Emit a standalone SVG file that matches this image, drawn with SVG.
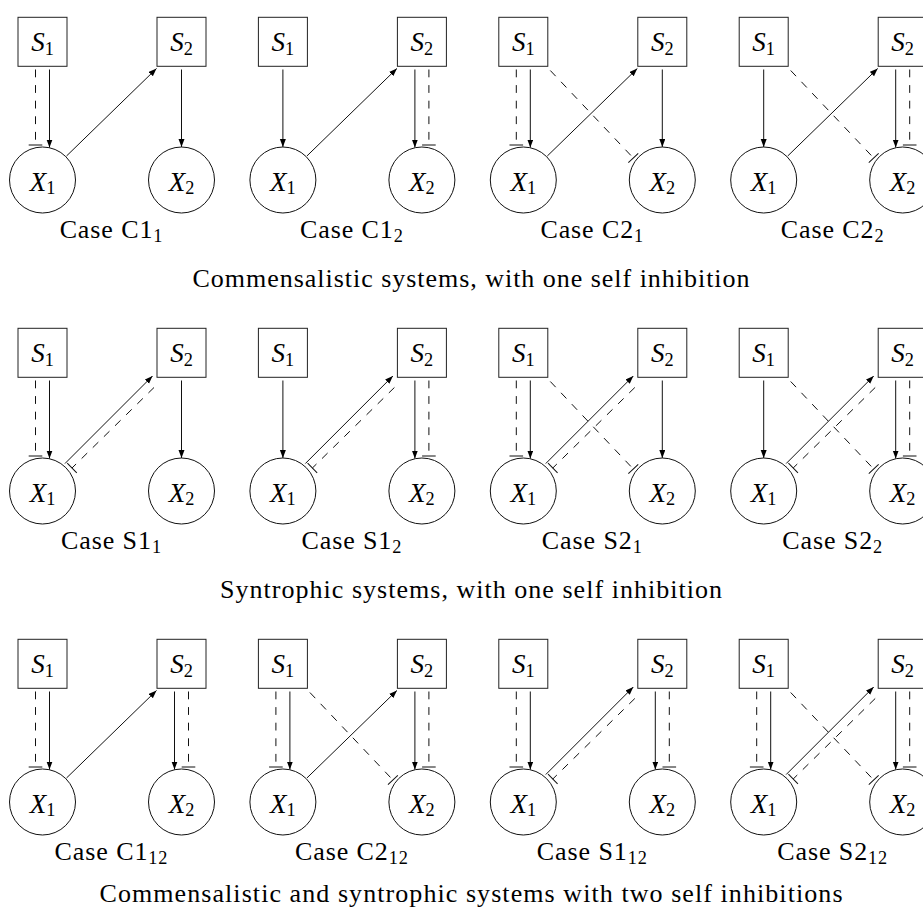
<svg xmlns="http://www.w3.org/2000/svg" width="923" height="909" viewBox="0 0 923 909" font-family="'Liberation Serif', 'Times New Roman', serif">
  <style>
    .box { fill: #fff; stroke: #222; stroke-width: 1; }
    .cell { fill: #fff; stroke: #111; stroke-width: 1; }
    .a { stroke: #111; stroke-width: 1; fill: none; marker-end: url(#arr); }
    .i { stroke: #111; stroke-width: 1; fill: none; stroke-dasharray: 7.8 7.8; marker-end: url(#bar); }
    text { fill: #000; }
    .m { font-size: 27px; font-style: italic; }
    .sub { font-size: 18.3px; font-style: normal; }
    .lab { font-size: 26px; letter-spacing: 0.9px; }
    .cap { font-size: 26px; }
  </style>
  <defs>
    <marker id="arr" markerUnits="userSpaceOnUse" markerWidth="10" markerHeight="8" refX="8" refY="3" orient="auto">
      <path d="M0,0 L8,3 L0,6 z" fill="#000"/>
    </marker>
    <marker id="bar" markerUnits="userSpaceOnUse" markerWidth="4" markerHeight="16" refX="1" refY="8" orient="auto">
      <path d="M1,1.2 V14.8" stroke="#111" stroke-width="1" fill="none"/>
    </marker>
  </defs>
  <rect width="923" height="909" fill="#fff"/>

  <!-- Row 1: commensalistic systems, one self inhibition -->
  <g id="caseC1_1" transform="translate(0,0)">
    <g class="connectors">
      <line class="a" x1="49.5" y1="69.5" x2="49.5" y2="147.5"/>
      <line class="i" x1="35.5" y1="69.5" x2="35.5" y2="145"/>
      <line class="a" x1="181.5" y1="69.5" x2="181.5" y2="147"/>
      <line class="a" x1="66.5" y1="156" x2="156.5" y2="68.5"/>
    </g>
    <g id="C1_1-S1"><rect class="box" x="18" y="17.3" width="49" height="49"/><text class="m" x="42.5" y="51" text-anchor="middle">S<tspan class="sub" dy="3.6">1</tspan></text></g>
    <g id="C1_1-S2"><rect class="box" x="157" y="17.3" width="49" height="49"/><text class="m" x="181.5" y="51" text-anchor="middle">S<tspan class="sub" dy="3.6">2</tspan></text></g>
    <g id="C1_1-X1"><circle class="cell" cx="42.5" cy="180" r="33"/><text class="m" x="42.5" y="190.5" text-anchor="middle">X<tspan class="sub" dy="3.6">1</tspan></text></g>
    <g id="C1_1-X2"><circle class="cell" cx="181.5" cy="180" r="33"/><text class="m" x="181.5" y="190.5" text-anchor="middle">X<tspan class="sub" dy="3.6">2</tspan></text></g>
    <text class="lab" x="111.5" y="238" text-anchor="middle">Case C1<tspan class="sub" dy="3.6">1</tspan></text>
  </g>

  <g id="caseC1_2" transform="translate(240.4,0)">
    <g class="connectors">
      <line class="a" x1="42.5" y1="69.5" x2="42.5" y2="147"/>
      <line class="a" x1="174.5" y1="69.5" x2="174.5" y2="147.5"/>
      <line class="i" x1="188.5" y1="69.5" x2="188.5" y2="145"/>
      <line class="a" x1="66.5" y1="156" x2="156.5" y2="68.5"/>
    </g>
    <g id="C1_2-S1"><rect class="box" x="18" y="17.3" width="49" height="49"/><text class="m" x="42.5" y="51" text-anchor="middle">S<tspan class="sub" dy="3.6">1</tspan></text></g>
    <g id="C1_2-S2"><rect class="box" x="157" y="17.3" width="49" height="49"/><text class="m" x="181.5" y="51" text-anchor="middle">S<tspan class="sub" dy="3.6">2</tspan></text></g>
    <g id="C1_2-X1"><circle class="cell" cx="42.5" cy="180" r="33"/><text class="m" x="42.5" y="190.5" text-anchor="middle">X<tspan class="sub" dy="3.6">1</tspan></text></g>
    <g id="C1_2-X2"><circle class="cell" cx="181.5" cy="180" r="33"/><text class="m" x="181.5" y="190.5" text-anchor="middle">X<tspan class="sub" dy="3.6">2</tspan></text></g>
    <text class="lab" x="111.5" y="238" text-anchor="middle">Case C1<tspan class="sub" dy="3.6">2</tspan></text>
  </g>

  <g id="caseC2_1" transform="translate(480.8,0)">
    <g class="connectors">
      <line class="a" x1="49.5" y1="69.5" x2="49.5" y2="147.5"/>
      <line class="i" x1="35.5" y1="69.5" x2="35.5" y2="145"/>
      <line class="a" x1="181.5" y1="69.5" x2="181.5" y2="147"/>
      <line class="i" x1="69.5" y1="70.5" x2="152.5" y2="158"/>
      <line class="a" x1="66.5" y1="156" x2="156.5" y2="68.5"/>
    </g>
    <g id="C2_1-S1"><rect class="box" x="18" y="17.3" width="49" height="49"/><text class="m" x="42.5" y="51" text-anchor="middle">S<tspan class="sub" dy="3.6">1</tspan></text></g>
    <g id="C2_1-S2"><rect class="box" x="157" y="17.3" width="49" height="49"/><text class="m" x="181.5" y="51" text-anchor="middle">S<tspan class="sub" dy="3.6">2</tspan></text></g>
    <g id="C2_1-X1"><circle class="cell" cx="42.5" cy="180" r="33"/><text class="m" x="42.5" y="190.5" text-anchor="middle">X<tspan class="sub" dy="3.6">1</tspan></text></g>
    <g id="C2_1-X2"><circle class="cell" cx="181.5" cy="180" r="33"/><text class="m" x="181.5" y="190.5" text-anchor="middle">X<tspan class="sub" dy="3.6">2</tspan></text></g>
    <text class="lab" x="111.5" y="238" text-anchor="middle">Case C2<tspan class="sub" dy="3.6">1</tspan></text>
  </g>

  <g id="caseC2_2" transform="translate(721.2,0)">
    <g class="connectors">
      <line class="a" x1="42.5" y1="69.5" x2="42.5" y2="147"/>
      <line class="a" x1="174.5" y1="69.5" x2="174.5" y2="147.5"/>
      <line class="i" x1="188.5" y1="69.5" x2="188.5" y2="145"/>
      <line class="i" x1="69.5" y1="70.5" x2="152.5" y2="158"/>
      <line class="a" x1="66.5" y1="156" x2="156.5" y2="68.5"/>
    </g>
    <g id="C2_2-S1"><rect class="box" x="18" y="17.3" width="49" height="49"/><text class="m" x="42.5" y="51" text-anchor="middle">S<tspan class="sub" dy="3.6">1</tspan></text></g>
    <g id="C2_2-S2"><rect class="box" x="157" y="17.3" width="49" height="49"/><text class="m" x="181.5" y="51" text-anchor="middle">S<tspan class="sub" dy="3.6">2</tspan></text></g>
    <g id="C2_2-X1"><circle class="cell" cx="42.5" cy="180" r="33"/><text class="m" x="42.5" y="190.5" text-anchor="middle">X<tspan class="sub" dy="3.6">1</tspan></text></g>
    <g id="C2_2-X2"><circle class="cell" cx="181.5" cy="180" r="33"/><text class="m" x="181.5" y="190.5" text-anchor="middle">X<tspan class="sub" dy="3.6">2</tspan></text></g>
    <text class="lab" x="111.5" y="238" text-anchor="middle">Case C2<tspan class="sub" dy="3.6">2</tspan></text>
  </g>

  <text class="cap" x="471" y="287" text-anchor="middle" textLength="557" lengthAdjust="spacing">Commensalistic systems, with one self inhibition</text>

  <!-- Row 2: syntrophic systems, one self inhibition -->
  <g id="caseS1_1" transform="translate(0,311)">
    <g class="connectors">
      <line class="a" x1="49.5" y1="69.5" x2="49.5" y2="147.5"/>
      <line class="i" x1="35.5" y1="69.5" x2="35.5" y2="145"/>
      <line class="a" x1="181.5" y1="69.5" x2="181.5" y2="147"/>
      <line class="a" x1="65" y1="152.5" x2="152.5" y2="65"/>
      <line class="i" x1="154" y1="76.5" x2="72" y2="157"/>
    </g>
    <g id="S1_1-S1"><rect class="box" x="18" y="17.3" width="49" height="49"/><text class="m" x="42.5" y="51" text-anchor="middle">S<tspan class="sub" dy="3.6">1</tspan></text></g>
    <g id="S1_1-S2"><rect class="box" x="157" y="17.3" width="49" height="49"/><text class="m" x="181.5" y="51" text-anchor="middle">S<tspan class="sub" dy="3.6">2</tspan></text></g>
    <g id="S1_1-X1"><circle class="cell" cx="42.5" cy="180" r="33"/><text class="m" x="42.5" y="190.5" text-anchor="middle">X<tspan class="sub" dy="3.6">1</tspan></text></g>
    <g id="S1_1-X2"><circle class="cell" cx="181.5" cy="180" r="33"/><text class="m" x="181.5" y="190.5" text-anchor="middle">X<tspan class="sub" dy="3.6">2</tspan></text></g>
    <text class="lab" x="111.5" y="238" text-anchor="middle">Case S1<tspan class="sub" dy="3.6">1</tspan></text>
  </g>

  <g id="caseS1_2" transform="translate(240.4,311)">
    <g class="connectors">
      <line class="a" x1="42.5" y1="69.5" x2="42.5" y2="147"/>
      <line class="a" x1="174.5" y1="69.5" x2="174.5" y2="147.5"/>
      <line class="i" x1="188.5" y1="69.5" x2="188.5" y2="145"/>
      <line class="a" x1="65" y1="152.5" x2="152.5" y2="65"/>
      <line class="i" x1="154" y1="76.5" x2="72" y2="157"/>
    </g>
    <g id="S1_2-S1"><rect class="box" x="18" y="17.3" width="49" height="49"/><text class="m" x="42.5" y="51" text-anchor="middle">S<tspan class="sub" dy="3.6">1</tspan></text></g>
    <g id="S1_2-S2"><rect class="box" x="157" y="17.3" width="49" height="49"/><text class="m" x="181.5" y="51" text-anchor="middle">S<tspan class="sub" dy="3.6">2</tspan></text></g>
    <g id="S1_2-X1"><circle class="cell" cx="42.5" cy="180" r="33"/><text class="m" x="42.5" y="190.5" text-anchor="middle">X<tspan class="sub" dy="3.6">1</tspan></text></g>
    <g id="S1_2-X2"><circle class="cell" cx="181.5" cy="180" r="33"/><text class="m" x="181.5" y="190.5" text-anchor="middle">X<tspan class="sub" dy="3.6">2</tspan></text></g>
    <text class="lab" x="111.5" y="238" text-anchor="middle">Case S1<tspan class="sub" dy="3.6">2</tspan></text>
  </g>

  <g id="caseS2_1" transform="translate(480.8,311)">
    <g class="connectors">
      <line class="a" x1="49.5" y1="69.5" x2="49.5" y2="147.5"/>
      <line class="i" x1="35.5" y1="69.5" x2="35.5" y2="145"/>
      <line class="a" x1="181.5" y1="69.5" x2="181.5" y2="147"/>
      <line class="i" x1="69.5" y1="70.5" x2="152.5" y2="158"/>
      <line class="a" x1="65" y1="152.5" x2="152.5" y2="65"/>
      <line class="i" x1="154" y1="76.5" x2="72" y2="157"/>
    </g>
    <g id="S2_1-S1"><rect class="box" x="18" y="17.3" width="49" height="49"/><text class="m" x="42.5" y="51" text-anchor="middle">S<tspan class="sub" dy="3.6">1</tspan></text></g>
    <g id="S2_1-S2"><rect class="box" x="157" y="17.3" width="49" height="49"/><text class="m" x="181.5" y="51" text-anchor="middle">S<tspan class="sub" dy="3.6">2</tspan></text></g>
    <g id="S2_1-X1"><circle class="cell" cx="42.5" cy="180" r="33"/><text class="m" x="42.5" y="190.5" text-anchor="middle">X<tspan class="sub" dy="3.6">1</tspan></text></g>
    <g id="S2_1-X2"><circle class="cell" cx="181.5" cy="180" r="33"/><text class="m" x="181.5" y="190.5" text-anchor="middle">X<tspan class="sub" dy="3.6">2</tspan></text></g>
    <text class="lab" x="111.5" y="238" text-anchor="middle">Case S2<tspan class="sub" dy="3.6">1</tspan></text>
  </g>

  <g id="caseS2_2" transform="translate(721.2,311)">
    <g class="connectors">
      <line class="a" x1="42.5" y1="69.5" x2="42.5" y2="147"/>
      <line class="a" x1="174.5" y1="69.5" x2="174.5" y2="147.5"/>
      <line class="i" x1="188.5" y1="69.5" x2="188.5" y2="145"/>
      <line class="i" x1="69.5" y1="70.5" x2="152.5" y2="158"/>
      <line class="a" x1="65" y1="152.5" x2="152.5" y2="65"/>
      <line class="i" x1="154" y1="76.5" x2="72" y2="157"/>
    </g>
    <g id="S2_2-S1"><rect class="box" x="18" y="17.3" width="49" height="49"/><text class="m" x="42.5" y="51" text-anchor="middle">S<tspan class="sub" dy="3.6">1</tspan></text></g>
    <g id="S2_2-S2"><rect class="box" x="157" y="17.3" width="49" height="49"/><text class="m" x="181.5" y="51" text-anchor="middle">S<tspan class="sub" dy="3.6">2</tspan></text></g>
    <g id="S2_2-X1"><circle class="cell" cx="42.5" cy="180" r="33"/><text class="m" x="42.5" y="190.5" text-anchor="middle">X<tspan class="sub" dy="3.6">1</tspan></text></g>
    <g id="S2_2-X2"><circle class="cell" cx="181.5" cy="180" r="33"/><text class="m" x="181.5" y="190.5" text-anchor="middle">X<tspan class="sub" dy="3.6">2</tspan></text></g>
    <text class="lab" x="111.5" y="238" text-anchor="middle">Case S2<tspan class="sub" dy="3.6">2</tspan></text>
  </g>

  <text class="cap" x="471" y="598" text-anchor="middle" textLength="502" lengthAdjust="spacing">Syntrophic systems, with one self inhibition</text>

  <!-- Row 3: two self inhibitions -->
  <g id="caseC1_12" transform="translate(0,622)">
    <g class="connectors">
      <line class="a" x1="49.5" y1="69.5" x2="49.5" y2="147.5"/>
      <line class="i" x1="35.5" y1="69.5" x2="35.5" y2="145"/>
      <line class="a" x1="174.5" y1="69.5" x2="174.5" y2="147.5"/>
      <line class="i" x1="188.5" y1="69.5" x2="188.5" y2="145"/>
      <line class="a" x1="66.5" y1="156" x2="156.5" y2="68.5"/>
    </g>
    <g id="C1_12-S1"><rect class="box" x="18" y="17.3" width="49" height="49"/><text class="m" x="42.5" y="51" text-anchor="middle">S<tspan class="sub" dy="3.6">1</tspan></text></g>
    <g id="C1_12-S2"><rect class="box" x="157" y="17.3" width="49" height="49"/><text class="m" x="181.5" y="51" text-anchor="middle">S<tspan class="sub" dy="3.6">2</tspan></text></g>
    <g id="C1_12-X1"><circle class="cell" cx="42.5" cy="180" r="33"/><text class="m" x="42.5" y="190.5" text-anchor="middle">X<tspan class="sub" dy="3.6">1</tspan></text></g>
    <g id="C1_12-X2"><circle class="cell" cx="181.5" cy="180" r="33"/><text class="m" x="181.5" y="190.5" text-anchor="middle">X<tspan class="sub" dy="3.6">2</tspan></text></g>
    <text class="lab" x="111.5" y="238" text-anchor="middle">Case C1<tspan class="sub" dy="3.6">12</tspan></text>
  </g>

  <g id="caseC2_12" transform="translate(240.4,622)">
    <g class="connectors">
      <line class="a" x1="49.5" y1="69.5" x2="49.5" y2="147.5"/>
      <line class="i" x1="35.5" y1="69.5" x2="35.5" y2="145"/>
      <line class="a" x1="174.5" y1="69.5" x2="174.5" y2="147.5"/>
      <line class="i" x1="188.5" y1="69.5" x2="188.5" y2="145"/>
      <line class="i" x1="69.5" y1="70.5" x2="152.5" y2="158"/>
      <line class="a" x1="66.5" y1="156" x2="156.5" y2="68.5"/>
    </g>
    <g id="C2_12-S1"><rect class="box" x="18" y="17.3" width="49" height="49"/><text class="m" x="42.5" y="51" text-anchor="middle">S<tspan class="sub" dy="3.6">1</tspan></text></g>
    <g id="C2_12-S2"><rect class="box" x="157" y="17.3" width="49" height="49"/><text class="m" x="181.5" y="51" text-anchor="middle">S<tspan class="sub" dy="3.6">2</tspan></text></g>
    <g id="C2_12-X1"><circle class="cell" cx="42.5" cy="180" r="33"/><text class="m" x="42.5" y="190.5" text-anchor="middle">X<tspan class="sub" dy="3.6">1</tspan></text></g>
    <g id="C2_12-X2"><circle class="cell" cx="181.5" cy="180" r="33"/><text class="m" x="181.5" y="190.5" text-anchor="middle">X<tspan class="sub" dy="3.6">2</tspan></text></g>
    <text class="lab" x="111.5" y="238" text-anchor="middle">Case C2<tspan class="sub" dy="3.6">12</tspan></text>
  </g>

  <g id="caseS1_12" transform="translate(480.8,622)">
    <g class="connectors">
      <line class="a" x1="49.5" y1="69.5" x2="49.5" y2="147.5"/>
      <line class="i" x1="35.5" y1="69.5" x2="35.5" y2="145"/>
      <line class="a" x1="174.5" y1="69.5" x2="174.5" y2="147.5"/>
      <line class="i" x1="188.5" y1="69.5" x2="188.5" y2="145"/>
      <line class="a" x1="65" y1="152.5" x2="152.5" y2="65"/>
      <line class="i" x1="154" y1="76.5" x2="72" y2="157"/>
    </g>
    <g id="S1_12-S1"><rect class="box" x="18" y="17.3" width="49" height="49"/><text class="m" x="42.5" y="51" text-anchor="middle">S<tspan class="sub" dy="3.6">1</tspan></text></g>
    <g id="S1_12-S2"><rect class="box" x="157" y="17.3" width="49" height="49"/><text class="m" x="181.5" y="51" text-anchor="middle">S<tspan class="sub" dy="3.6">2</tspan></text></g>
    <g id="S1_12-X1"><circle class="cell" cx="42.5" cy="180" r="33"/><text class="m" x="42.5" y="190.5" text-anchor="middle">X<tspan class="sub" dy="3.6">1</tspan></text></g>
    <g id="S1_12-X2"><circle class="cell" cx="181.5" cy="180" r="33"/><text class="m" x="181.5" y="190.5" text-anchor="middle">X<tspan class="sub" dy="3.6">2</tspan></text></g>
    <text class="lab" x="111.5" y="238" text-anchor="middle">Case S1<tspan class="sub" dy="3.6">12</tspan></text>
  </g>

  <g id="caseS2_12" transform="translate(721.2,622)">
    <g class="connectors">
      <line class="a" x1="49.5" y1="69.5" x2="49.5" y2="147.5"/>
      <line class="i" x1="35.5" y1="69.5" x2="35.5" y2="145"/>
      <line class="a" x1="174.5" y1="69.5" x2="174.5" y2="147.5"/>
      <line class="i" x1="188.5" y1="69.5" x2="188.5" y2="145"/>
      <line class="i" x1="69.5" y1="70.5" x2="152.5" y2="158"/>
      <line class="a" x1="65" y1="152.5" x2="152.5" y2="65"/>
      <line class="i" x1="154" y1="76.5" x2="72" y2="157"/>
    </g>
    <g id="S2_12-S1"><rect class="box" x="18" y="17.3" width="49" height="49"/><text class="m" x="42.5" y="51" text-anchor="middle">S<tspan class="sub" dy="3.6">1</tspan></text></g>
    <g id="S2_12-S2"><rect class="box" x="157" y="17.3" width="49" height="49"/><text class="m" x="181.5" y="51" text-anchor="middle">S<tspan class="sub" dy="3.6">2</tspan></text></g>
    <g id="S2_12-X1"><circle class="cell" cx="42.5" cy="180" r="33"/><text class="m" x="42.5" y="190.5" text-anchor="middle">X<tspan class="sub" dy="3.6">1</tspan></text></g>
    <g id="S2_12-X2"><circle class="cell" cx="181.5" cy="180" r="33"/><text class="m" x="181.5" y="190.5" text-anchor="middle">X<tspan class="sub" dy="3.6">2</tspan></text></g>
    <text class="lab" x="111.5" y="238" text-anchor="middle">Case S2<tspan class="sub" dy="3.6">12</tspan></text>
  </g>

  <text class="cap" x="471" y="902" text-anchor="middle" textLength="743" lengthAdjust="spacing">Commensalistic and syntrophic systems with two self inhibitions</text>
</svg>
